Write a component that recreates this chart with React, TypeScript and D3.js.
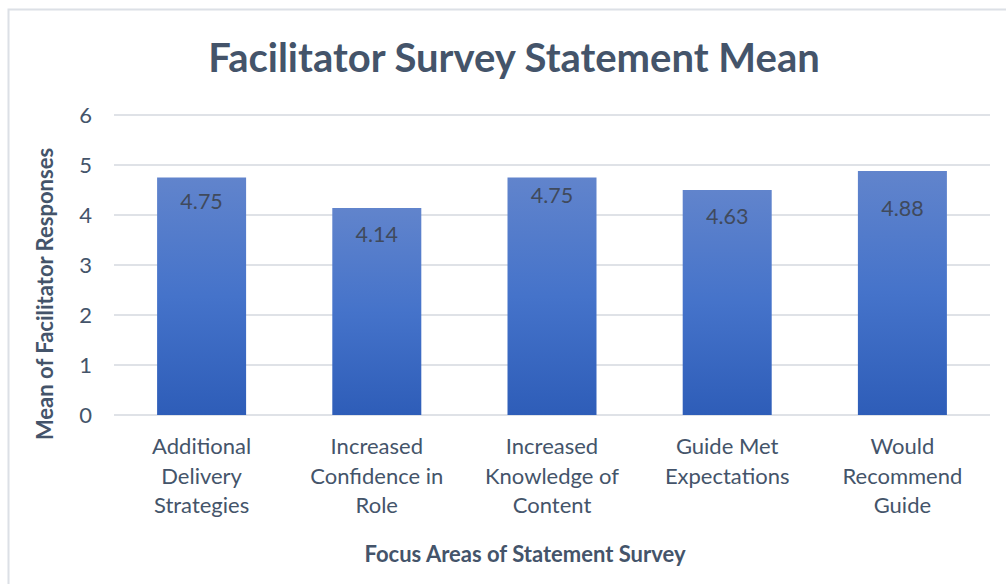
import React from "react";
import * as d3 from "d3";

const categories: string[][] = [
  ["Additional", "Delivery", "Strategies"],
  ["Increased", "Confidence in", "Role"],
  ["Increased", "Knowledge of", "Content"],
  ["Guide Met", "Expectations"],
  ["Would", "Recommend", "Guide"],
];
const barValues: number[] = [4.75, 4.14, 4.75, 4.5, 4.88];
const labelTexts: string[] = ["4.75", "4.14", "4.75", "4.63", "4.88"];
const yTicks: number[] = [0, 1, 2, 3, 4, 5, 6];

const title = "Facilitator Survey Statement Mean";
const xTitle = "Focus Areas of Statement Survey";
const yTitle = "Mean of Facilitator Responses";

// layout: label nudges below bar top (px)
const labelNudge = [24, 26, 18, 26, 37];

const W = 1006;
const H = 584;
const plot = { left: 114, right: 990, top: 115, bottom: 415 };
const FONT = "Lato, 'Open Sans', sans-serif";
const TEXT = "#44546A";

export default function App() {
  const x = d3
    .scaleBand<number>()
    .domain(d3.range(categories.length))
    .range([plot.left, plot.right])
    .paddingInner(0.492)
    .paddingOuter(0.246);
  const y = d3.scaleLinear().domain([0, 6]).range([plot.bottom, plot.top]);

  return (
    <svg
      width={W}
      height={H}
      style={{ position: "absolute", left: 0, top: 0, background: "#fff" }}
    >
      <defs>
        <linearGradient id="barGrad" x1="0" y1="0" x2="0" y2="1">
          <stop offset="0%" stopColor="#6184CC" />
          <stop offset="50%" stopColor="#4573CA" />
          <stop offset="100%" stopColor="#2E5DB8" />
        </linearGradient>
      </defs>
      <rect x={8.5} y={9.5} width={1010} height={600} fill="#fff" stroke="#DCE0E6" strokeWidth={2} />

      <text
        x={514}
        y={72}
        textAnchor="middle"
        fontFamily={FONT}
        fontWeight={700}
        fontSize={40}
        fill={TEXT}
      >
        {title}
      </text>

      {yTicks.map((t) => (
        <g key={t}>
          <line
            x1={plot.left}
            x2={plot.right}
            y1={y(t)}
            y2={y(t)}
            stroke="#DFE2E7"
            strokeWidth={2}
          />
          <text
            x={92}
            y={y(t)}
            dy="0.35em"
            textAnchor="end"
            fontFamily={FONT}
            fontSize={22}
            fill={TEXT}
          >
            {t}
          </text>
        </g>
      ))}

      {barValues.map((v, i) => (
        <g key={i}>
          <rect
            x={x(i)}
            y={y(v)}
            width={x.bandwidth()}
            height={y(0) - y(v)}
            fill="url(#barGrad)"
          />
          <text
            x={(x(i) as number) + x.bandwidth() / 2}
            y={y(v) + labelNudge[i]}
            dy="0.35em"
            textAnchor="middle"
            fontFamily={FONT}
            fontSize={21.5}
            fill="#404A5C"
          >
            {labelTexts[i]}
          </text>
        </g>
      ))}

      {categories.map((lines, i) => (
        <text
          key={i}
          x={(x(i) as number) + x.bandwidth() / 2}
          y={454}
          textAnchor="middle"
          fontFamily={FONT}
          fontSize={22}
          fill={TEXT}
        >
          {lines.map((l, j) => (
            <tspan key={j} x={(x(i) as number) + x.bandwidth() / 2} dy={j === 0 ? 0 : 29.5}>
              {l}
            </tspan>
          ))}
        </text>
      ))}

      <text
        x={525}
        y={562}
        textAnchor="middle"
        fontFamily={FONT}
        fontWeight={700}
        fontSize={22}
        fill={TEXT}
      >
        {xTitle}
      </text>
      <text
        transform={`translate(53, 294) rotate(-90)`}
        textAnchor="middle"
        fontFamily={FONT}
        fontWeight={700}
        fontSize={22}
        fill={TEXT}
      >
        {yTitle}
      </text>
    </svg>
  );
}
